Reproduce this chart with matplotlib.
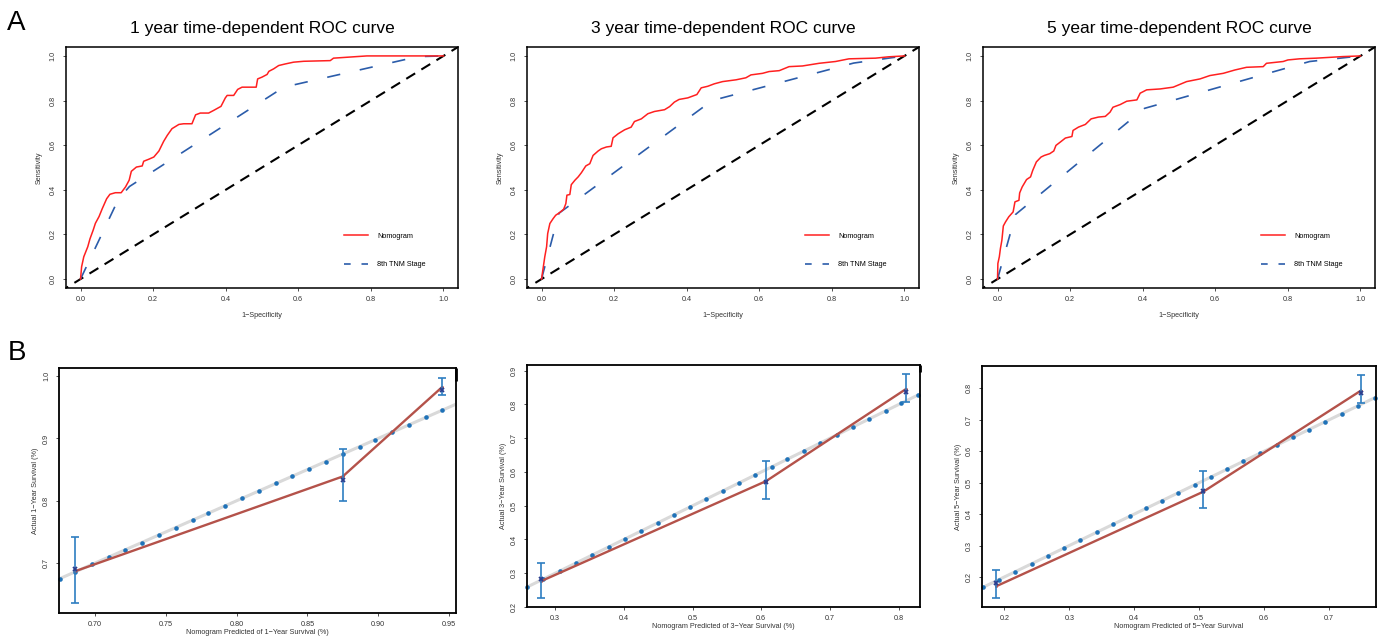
"""Time-dependent ROC curves (A) and calibration plots (B) for 1/3/5-year survival"""
import numpy as np
import matplotlib
matplotlib.use("Agg")
import matplotlib.pyplot as plt
from matplotlib.lines import Line2D

plt.rcParams['font.family'] = ['Liberation Sans', 'DejaVu Sans']

## ROC data (1-specificity, sensitivity)
nomo_fpr_1 = [0, 0.003, 0.009, 0.02, 0.026, 0.035, 0.041, 0.051, 0.06, 0.072, 0.081, 0.096, 0.112, 0.124,
              0.134, 0.14, 0.154, 0.17, 0.174, 0.188, 0.202, 0.216, 0.229, 0.239, 0.252, 0.271, 0.284, 0.307,
              0.317, 0.33, 0.353, 0.367, 0.387, 0.399, 0.404, 0.422, 0.433, 0.445, 0.484, 0.488, 0.5, 0.514,
              0.519, 0.532, 0.546, 0.564, 0.587, 0.615, 0.688, 0.697, 0.761, 0.789, 1.0]
nomo_tpr_1 = [0, 0.055, 0.10, 0.145, 0.18, 0.22, 0.25, 0.28, 0.316, 0.36, 0.38, 0.387, 0.387, 0.413,
              0.443, 0.483, 0.502, 0.507, 0.528, 0.537, 0.547, 0.574, 0.617, 0.644, 0.674, 0.693, 0.696, 0.696,
              0.736, 0.744, 0.744, 0.756, 0.774, 0.812, 0.823, 0.823, 0.85, 0.86, 0.86, 0.897, 0.905, 0.917,
              0.931, 0.942, 0.957, 0.964, 0.972, 0.976, 0.979, 0.99, 0.997, 1.0, 1.0]
tnm_fpr_1 = [0, 0.105, 0.135, 0.56, 0.93, 1.0]
tnm_tpr_1 = [0, 0.36, 0.415, 0.86, 0.997, 1.0]

nomo_fpr_3 = [0, 0.005, 0.009, 0.014, 0.017, 0.023, 0.032, 0.039, 0.05, 0.061, 0.067, 0.07, 0.078, 0.082,
              0.092, 0.101, 0.11, 0.122, 0.133, 0.142, 0.156, 0.165, 0.179, 0.192, 0.197, 0.211, 0.229, 0.247,
              0.256, 0.275, 0.293, 0.311, 0.339, 0.353, 0.366, 0.379, 0.403, 0.428, 0.44, 0.458, 0.476, 0.499,
              0.536, 0.563, 0.577, 0.609, 0.627, 0.655, 0.682, 0.719, 0.765, 0.81, 0.847, 0.92, 0.956, 1.0]
nomo_tpr_3 = [0, 0.055, 0.10, 0.145, 0.204, 0.249, 0.271, 0.286, 0.298, 0.313, 0.338, 0.376, 0.379, 0.423,
              0.443, 0.458, 0.477, 0.507, 0.517, 0.554, 0.574, 0.584, 0.592, 0.595, 0.633, 0.651, 0.669, 0.681,
              0.706, 0.718, 0.741, 0.751, 0.759, 0.773, 0.793, 0.805, 0.812, 0.827, 0.857, 0.864, 0.875, 0.885,
              0.893, 0.902, 0.915, 0.922, 0.93, 0.934, 0.952, 0.955, 0.967, 0.975, 0.987, 0.99, 0.996, 1.0]
tnm_fpr_3 = [0, 0.048, 0.47, 0.86, 1.0]
tnm_tpr_3 = [0, 0.295, 0.80, 0.968, 1.0]

nomo_fpr_5 = [0, 0.001, 0.005, 0.008, 0.012, 0.016, 0.022, 0.031, 0.043, 0.048, 0.059, 0.061, 0.068, 0.08,
              0.091, 0.097, 0.107, 0.12, 0.129, 0.144, 0.155, 0.161, 0.173, 0.187, 0.205, 0.208, 0.223, 0.242,
              0.258, 0.278, 0.297, 0.31, 0.318, 0.338, 0.356, 0.384, 0.393, 0.411, 0.448, 0.484, 0.521, 0.558,
              0.585, 0.622, 0.654, 0.686, 0.732, 0.741, 0.787, 0.8, 0.832, 0.878, 0.951, 1.0]
nomo_tpr_5 = [0, 0.07, 0.10, 0.137, 0.174, 0.238, 0.256, 0.279, 0.301, 0.346, 0.353, 0.386, 0.413, 0.446,
              0.458, 0.487, 0.525, 0.547, 0.554, 0.562, 0.574, 0.599, 0.614, 0.632, 0.639, 0.666, 0.681, 0.693,
              0.718, 0.726, 0.729, 0.748, 0.77, 0.782, 0.797, 0.803, 0.833, 0.848, 0.852, 0.86, 0.885, 0.897,
              0.912, 0.922, 0.937, 0.949, 0.952, 0.967, 0.975, 0.982, 0.987, 0.99, 0.997, 1.0]
tnm_fpr_5 = [0, 0.05, 0.405, 0.86, 1.0]
tnm_tpr_5 = [0, 0.29, 0.765, 0.975, 1.0]

roc_titles = ['1 year time-dependent ROC curve', '3 year time-dependent ROC curve',
              '5 year time-dependent ROC curve']

## Calibration data
cal_years = [1, 3, 5]
# blue dots along the ideal line
dots_1 = [0.675, 0.686, 0.698, 0.710, 0.721, 0.733, 0.745, 0.757, 0.769, 0.780, 0.792, 0.804, 0.816, 0.828,
          0.839, 0.851, 0.863, 0.875, 0.887, 0.898, 0.910, 0.922, 0.934, 0.945]
dots_3 = [0.259, 0.283, 0.307, 0.330, 0.354, 0.378, 0.401, 0.425, 0.449, 0.473, 0.496, 0.520, 0.544, 0.567,
          0.591, 0.615, 0.638, 0.662, 0.686, 0.710, 0.733, 0.757, 0.781, 0.804, 0.828]
dots_5 = [0.167, 0.192, 0.217, 0.242, 0.267, 0.292, 0.317, 0.342, 0.368, 0.393, 0.418, 0.443, 0.468, 0.493,
          0.518, 0.543, 0.568, 0.594, 0.619, 0.644, 0.669, 0.694, 0.719, 0.744, 0.770]
# nomogram calibration line
pred_1, cal_1 = [0.686, 0.875, 0.945], [0.687, 0.839, 0.982]
pred_3, cal_3 = [0.280, 0.607, 0.810], [0.277, 0.573, 0.845]
pred_5, cal_5 = [0.188, 0.506, 0.749], [0.171, 0.471, 0.793]
# observed groups with error bars
obs_1, lo_1, hi_1 = [0.690, 0.834, 0.978], [0.636, 0.799, 0.969], [0.742, 0.883, 0.997]
obs_3, lo_3, hi_3 = [0.283, 0.570, 0.838], [0.227, 0.520, 0.806], [0.331, 0.634, 0.890]
obs_5, lo_5, hi_5 = [0.181, 0.475, 0.786], [0.132, 0.418, 0.752], [0.222, 0.537, 0.843]

cal_xlim = [(0.6746, 0.955), (0.259, 0.831), (0.1657, 0.772)]
cal_ylim = [(0.620, 1.013), (0.200, 0.917), (0.1046, 0.871)]
cal_xticks = [[0.70, 0.75, 0.80, 0.85, 0.90, 0.95], [0.3, 0.4, 0.5, 0.6, 0.7, 0.8],
              [0.2, 0.3, 0.4, 0.5, 0.6, 0.7]]
cal_yticks = [[0.7, 0.8, 0.9, 1.0], [0.2, 0.3, 0.4, 0.5, 0.6, 0.7, 0.8, 0.9],
              [0.2, 0.3, 0.4, 0.5, 0.6, 0.7, 0.8]]
cal_xfmt = ['%.2f', '%.1f', '%.1f']
cal_xlabels = ['Nomogram Predicted of 1\u2212Year Survival (%)',
               'Nomogram Predicted of 3\u2212Year Survival (%)',
               'Nomogram Predicted of 5\u2212Year Survival']

W, H = 1385, 636
fig = plt.figure(figsize=(W/100, H/100), dpi=100)

def px_axes(left, top, right, bottom):
    return fig.add_axes([left/W, 1 - bottom/H, (right-left)/W, (bottom-top)/H])

tiny = 5.2
red, blue = '#FF2020', '#2B5CAA'

##ROC panels
roc_boxes = [(66, 47, 458, 288), (527, 47, 919, 288), (983, 47, 1375, 288)]
roc_data = [(nomo_fpr_1, nomo_tpr_1, tnm_fpr_1, tnm_tpr_1),
            (nomo_fpr_3, nomo_tpr_3, tnm_fpr_3, tnm_tpr_3),
            (nomo_fpr_5, nomo_tpr_5, tnm_fpr_5, tnm_tpr_5)]
for box, dat, title in zip(roc_boxes, roc_data, roc_titles):
    ax = px_axes(*box)
    nf, nt, tf, tt = dat
    ax.plot([-0.1, 1.1], [-0.1, 1.1], color='black', lw=1.5, dashes=(5, 3.5), zorder=1)
    ax.plot(tf, tt, color=blue, lw=1.2, dashes=(8, 12), zorder=2)
    ax.plot(nf, nt, color=red, lw=1.1, zorder=3)
    ax.set_xlim(-0.04, 1.04)
    ax.set_ylim(-0.04, 1.04)
    ticks = [0.0, 0.2, 0.4, 0.6, 0.8, 1.0]
    ax.set_xticks(ticks)
    ax.set_yticks(ticks)
    ax.set_xticklabels(['%.1f' % t for t in ticks])
    ax.set_yticklabels(['%.1f' % t for t in ticks], rotation=90, va='center')
    ax.tick_params(labelsize=tiny, length=2, width=0.6, colors='#333333')
    ax.tick_params(axis='x', pad=4)
    ax.tick_params(axis='y', pad=5)
    for s in ax.spines.values():
        s.set_linewidth(1.1)
    ax.set_xlabel('1\u2212Specificity', fontsize=tiny, labelpad=6, color='#333333')
    ax.set_ylabel('Sensitivity', fontsize=tiny, labelpad=5, color='#333333')
    ax.set_title(title, fontsize=12.5, pad=10)
    handles = [Line2D([], [], color=red, lw=1.1),
               Line2D([], [], color=blue, lw=1.2, dashes=(4, 6.5))]
    ax.legend(handles, ['Nomogram', '8th TNM Stage'], loc='upper left', bbox_to_anchor=(0.70, 0.245),
              frameon=False, fontsize=tiny, handlelength=3.3, handletextpad=1.3, labelspacing=3.0,
              borderpad=0)

##Calibration panels
cal_boxes = [(59, 368, 456, 613), (527, 365, 920, 607), (982, 366, 1376, 607)]
cal_dots = [dots_1, dots_3, dots_5]
cal_lines = [(pred_1, cal_1), (pred_3, cal_3), (pred_5, cal_5)]
cal_obs = [(obs_1, lo_1, hi_1), (obs_3, lo_3, hi_3), (obs_5, lo_5, hi_5)]
spike_len = [0.055, 0.03, 0.0]
for i, box in enumerate(cal_boxes):
    ax = px_axes(*box)
    x0, x1 = cal_xlim[i]
    ax.plot([x0 - 0.1, x1 + 0.1], [x0 - 0.1, x1 + 0.1], color='#D9D9D9', lw=2.2, zorder=1)
    ax.plot(cal_dots[i], cal_dots[i], 'o', color='#1F72B8', ms=3.3, mec='none', zorder=2, clip_on=False)
    px, py = cal_lines[i]
    ax.plot(px, py, color='#B4524A', lw=1.7, zorder=3)
    ax.plot(px, py, 'o', color='#C0504D', ms=2.2, mec='none', zorder=4)
    ob, lo, hi = cal_obs[i]
    ob, lo, hi = np.array(ob), np.array(lo), np.array(hi)
    ax.errorbar(px, ob, yerr=[ob - lo, hi - ob], fmt='none', ecolor='#2E7EC1', elinewidth=1.2,
                capsize=2.6, capthick=1.2, zorder=5)
    ax.plot(px, ob, 'x', color='#2B3F8F', ms=3.5, mew=1.3, zorder=6)
    if spike_len[i] > 0:
        ax.plot([1, 1], [1, 1 - spike_len[i]], color='black', lw=2.0, transform=ax.transAxes,
                clip_on=False, solid_capstyle='butt', zorder=7)
    ax.set_xlim(*cal_xlim[i])
    ax.set_ylim(*cal_ylim[i])
    ax.set_xticks(cal_xticks[i])
    ax.set_xticklabels([cal_xfmt[i] % t for t in cal_xticks[i]])
    ax.set_yticks(cal_yticks[i])
    ax.set_yticklabels(['%.1f' % t for t in cal_yticks[i]], rotation=90, va='center')
    ax.tick_params(labelsize=tiny, length=2.5, width=0.6, colors='#333333')
    ax.tick_params(axis='x', pad=3)
    ax.tick_params(axis='y', pad=4)
    for s in ax.spines.values():
        s.set_linewidth(1.3)
    ax.set_xlabel(cal_xlabels[i], fontsize=tiny, labelpad=1.0, color='#333333')
    ax.set_ylabel('Actual %d\u2212Year Survival (%%)' % cal_years[i], fontsize=tiny, labelpad=3,
                  color='#333333')

fig.text(7/W, 1 - 30/H, 'A', fontsize=20, va='baseline', ha='left')
fig.text(8/W, 1 - 360/H, 'B', fontsize=20, va='baseline', ha='left')

fig.savefig('out.png', dpi=100)
